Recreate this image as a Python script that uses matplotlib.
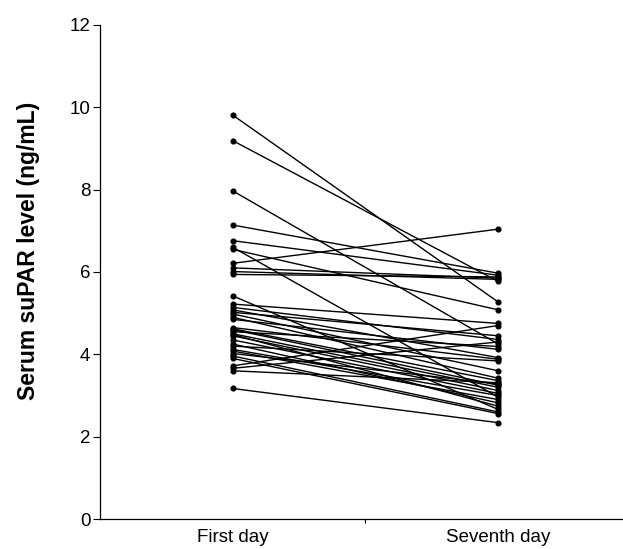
import matplotlib
matplotlib.use('Agg')
import matplotlib.pyplot as plt

plt.rcParams['font.family'] = ['Liberation Sans', 'DejaVu Sans']

days = ['First day', 'Seventh day']

# serum suPAR (ng/mL), one entry per patient
first_day = [9.81, 9.19, 7.97, 7.14, 6.76, 6.60, 6.55, 6.21, 6.10, 6.01,
             5.94, 5.42, 5.22, 5.14, 5.08, 5.02, 4.98, 4.90, 4.85, 4.65,
             4.62, 4.60, 4.55, 4.50, 4.48, 4.45, 4.35, 4.25, 4.20, 4.12,
             4.08, 4.02, 3.96, 3.90, 3.72, 3.66, 3.60, 3.17]
seventh_day = [5.27, 5.77, 4.25, 5.97, 5.92, 2.96, 5.08, 7.04, 5.85, 5.82,
               5.88, 2.66, 4.75, 4.36, 3.92, 4.45, 3.60, 3.42, 4.12, 3.88,
               3.36, 3.25, 4.19, 3.20, 2.74, 3.12, 3.05, 2.82, 3.84, 3.00,
               2.90, 3.28, 2.60, 2.56, 4.70, 4.30, 3.31, 2.34]

fig = plt.figure(figsize=(6.23, 5.49), dpi=100)
ax = fig.add_axes([0.1605, 0.0546, 0.8395, 0.9])

for a, b in zip(first_day, seventh_day):
    ax.plot([0, 1], [a, b], color='black', lw=1.0, marker='o',
            markersize=3.4, solid_capstyle='round')

ax.set_xlim(-0.5, 1.47)
ax.set_ylim(0, 12)
ax.set_yticks(range(0, 13, 2))
ax.set_xticks([0, 1])
ax.set_xticklabels(days)
ax.set_xticks([0.5], minor=True)
ax.tick_params(axis='x', which='major', length=0, pad=7, labelsize=13.5)
ax.tick_params(axis='x', which='minor', length=3, width=0.8)
ax.tick_params(axis='y', length=5, width=0.8, labelsize=13.5, pad=2)

for s in ['top', 'right']:
    ax.spines[s].set_visible(False)
for s in ['left', 'bottom']:
    ax.spines[s].set_linewidth(0.9)

ax.set_ylabel('Serum suPAR level (ng/mL)', fontsize=16.5, fontweight='bold')
ax.yaxis.set_label_coords(-0.115, 0.5425)

fig.savefig('out.png', dpi=100)
